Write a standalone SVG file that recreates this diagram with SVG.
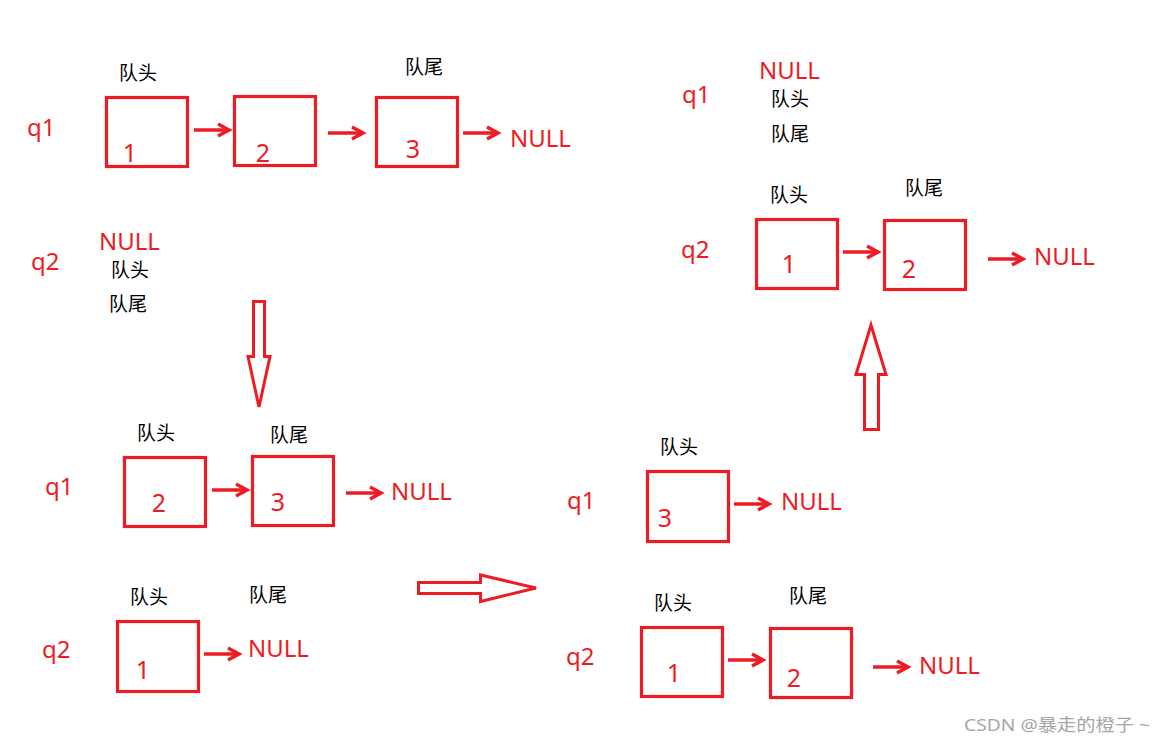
<svg xmlns="http://www.w3.org/2000/svg" xmlns:xlink="http://www.w3.org/1999/xlink" width="1166" height="744" viewBox="0 0 1166 744">
<style>
.box{fill:none;stroke:#ED1C24;stroke-width:3.2}
.big{fill:#fff;stroke:#ED1C24;stroke-width:3;stroke-linejoin:miter}
.r{fill:#ED1C24;font-family:"Noto Sans","Liberation Sans",sans-serif;font-size:24px}
.n{fill:#ED1C24;font-family:"Noto Sans","Liberation Sans",sans-serif;font-size:25px;text-anchor:middle}
.c{fill:#000;font-family:"Noto Sans CJK SC","Noto Sans",sans-serif;font-size:19px}
.w{fill:#a6a6a6;font-family:"Noto Sans","Noto Sans CJK SC",sans-serif;font-size:17px}
</style>
<defs>
<g id="arr">
<path d="M0,0 H34" stroke="#ED1C24" stroke-width="3.5" fill="none"/>
<path d="M24,-6 L35,0 L24,6" stroke="#ED1C24" stroke-width="3.5" fill="none" stroke-linejoin="miter"/>
</g>
</defs>
<rect width="1166" height="744" fill="#fff"/>

<g id="labels">
<text class="r" x="27" y="136">q1</text>
<text class="r" x="31" y="270">q2</text>
<text class="r" x="45" y="495">q1</text>
<text class="r" x="42" y="658">q2</text>
<text class="r" x="567" y="509">q1</text>
<text class="r" x="566" y="665">q2</text>
<text class="r" x="682" y="103">q1</text>
<text class="r" x="681" y="258">q2</text>
</g>

<g id="tl-q1">
<text class="c" x="119" y="80">队头</text>
<text class="c" x="405" y="74">队尾</text>
<rect class="box" x="106.5" y="97.5" width="81" height="69"/>
<text class="n" x="130" y="162">1</text>
<rect class="box" x="234.5" y="96.5" width="81" height="69"/>
<text class="n" x="263" y="162">2</text>
<rect class="box" x="376.5" y="97.5" width="81" height="69"/>
<text class="n" x="413" y="158">3</text>
<text class="r" x="510" y="147">NULL</text>
</g>

<g id="tl-q2">
<text class="r" x="99" y="250">NULL</text>
<text class="c" x="111" y="277">队头</text>
<text class="c" x="109" y="311">队尾</text>
</g>

<g id="ml-q1">
<text class="c" x="137" y="440">队头</text>
<text class="c" x="270" y="442">队尾</text>
<rect class="box" x="124.5" y="457.5" width="81" height="69"/>
<text class="n" x="159" y="512">2</text>
<rect class="box" x="252.5" y="456.5" width="81" height="69"/>
<text class="n" x="278" y="511">3</text>
<text class="r" x="391" y="500">NULL</text>
</g>

<g id="ml-q2">
<text class="c" x="130" y="604">队头</text>
<text class="c" x="249" y="602">队尾</text>
<rect class="box" x="117.5" y="621.5" width="81" height="70"/>
<text class="n" x="143" y="679">1</text>
<text class="r" x="248" y="657">NULL</text>
</g>

<g id="br-q1">
<text class="c" x="660" y="454">队头</text>
<rect class="box" x="647.5" y="471.5" width="81" height="70"/>
<text class="n" x="665" y="527">3</text>
<text class="r" x="781" y="510">NULL</text>
</g>

<g id="br-q2">
<text class="c" x="654" y="610">队头</text>
<text class="c" x="789" y="603">队尾</text>
<rect class="box" x="641.5" y="627.5" width="81" height="69"/>
<text class="n" x="674" y="682">1</text>
<rect class="box" x="770.5" y="628.5" width="81" height="69"/>
<text class="n" x="794" y="687">2</text>
<text class="r" x="919" y="674">NULL</text>
</g>

<g id="tr-q1">
<text class="r" x="759" y="79">NULL</text>
<text class="c" x="771" y="106">队头</text>
<text class="c" x="771" y="141">队尾</text>
</g>

<g id="tr-q2">
<text class="c" x="770" y="202">队头</text>
<text class="c" x="905" y="195">队尾</text>
<rect class="box" x="756.5" y="219.5" width="81" height="69"/>
<text class="n" x="789" y="273">1</text>
<rect class="box" x="884.5" y="220.5" width="81" height="69"/>
<text class="n" x="909" y="278">2</text>
<text class="r" x="1034" y="265">NULL</text>
</g>

<g id="connectors">
<use xlink:href="#arr" x="194" y="130"/>
<use xlink:href="#arr" x="328" y="133"/>
<use xlink:href="#arr" x="463" y="133"/>
<use xlink:href="#arr" x="212" y="490"/>
<use xlink:href="#arr" x="346" y="493"/>
<use xlink:href="#arr" x="204" y="654"/>
<use xlink:href="#arr" x="734" y="504"/>
<use xlink:href="#arr" x="728" y="660"/>
<use xlink:href="#arr" x="873" y="667"/>
<use xlink:href="#arr" x="843" y="252"/>
<use xlink:href="#arr" x="988" y="259"/>
<polygon class="big" points="253.5,301.5 264.5,301.5 264.5,356.5 270,356.5 259,407 248,356.5 253.5,356.5"/>
<polygon class="big" points="418.5,582.5 480.5,582.5 480.5,575 536,588 480.5,601.5 480.5,593.5 418.5,593.5"/>
<polygon class="big" points="871,325 886,374.5 878.5,374.5 878.5,429.5 864.5,429.5 864.5,374.5 856,374.5"/>
</g>

<text class="w" x="964" y="731" textLength="186" lengthAdjust="spacingAndGlyphs">CSDN @暴走的橙子 ~</text>
</svg>
